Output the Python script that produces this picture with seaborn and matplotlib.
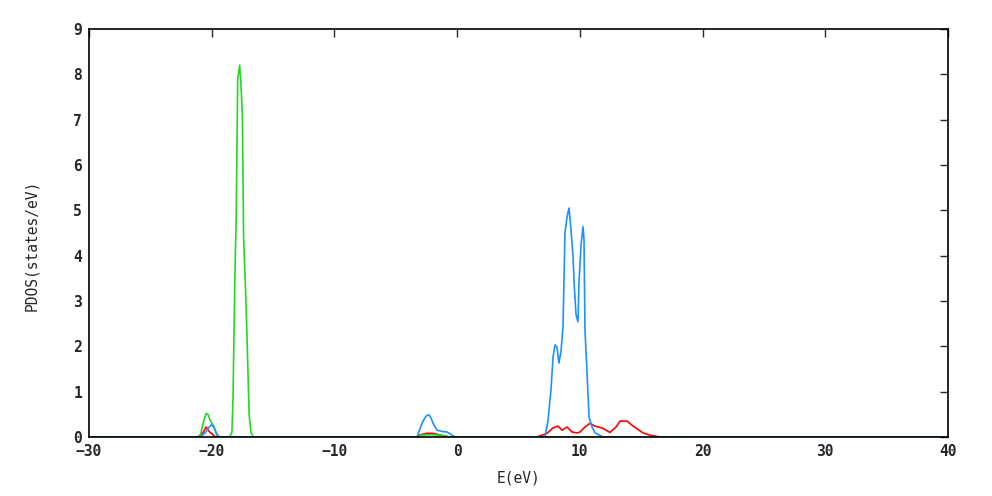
import numpy as np
import pandas as pd
import matplotlib
matplotlib.use("Agg")
import matplotlib.pyplot as plt
import seaborn as sns

# === PDOS data (E in eV, PDOS in states/eV) ===
green_e = [-30, -20.95, -20.7, -20.45, -20.3, -20.1, -19.85, -19.6, -19.45,
           -18.55, -18.35, -18.26, -18.12, -18.0, -17.88, -17.72, -17.62, -17.5,
           -17.4, -17.22, -17.1, -16.95, -16.8, -16.6,
           -3.2, -3.0, -2.0, -1.0, -0.7, 40]
green_pdos = [0, 0, 0.3, 0.52, 0.5, 0.35, 0.25, 0.05, 0,
              0, 0.1, 0.9, 3.4, 4.9, 7.9, 8.2, 7.8, 7.1,
              4.4, 3.1, 2.0, 0.5, 0.1, 0,
              0, 0.04, 0.05, 0.03, 0, 0]

red_e = [-30, -21.1, -20.7, -20.45, -20.2, -19.9, -19.7,
         -3.3, -3.0, -2.5, -2.0, -1.5, -1.0, -0.7,
         6.51, 7.33, 7.82, 8.22, 8.55, 8.96, 9.36, 9.77, 10.02, 10.42, 10.83,
         11.24, 11.81, 12.46, 12.95, 13.28, 13.85, 14.25, 14.66, 15.15, 15.72,
         16.54, 40]
red_pdos = [0, 0, 0.1, 0.22, 0.12, 0.05, 0,
            0, 0.05, 0.08, 0.08, 0.05, 0.02, 0,
            0.0, 0.08, 0.2, 0.24, 0.15, 0.22, 0.11, 0.09, 0.11, 0.22, 0.3,
            0.24, 0.2, 0.1, 0.22, 0.35, 0.35, 0.26, 0.18, 0.09, 0.04,
            0, 0]

blue_e = [-30, -20.9, -20.5, -20.2, -20.0, -19.8, -19.6, -19.4,
          -3.27, -3.0, -2.78, -2.5, -2.29, -2.1, -1.96, -1.64, -1.2, -0.82,
          -0.42, -0.17,
          7.16, 7.41, 7.65, 7.82, 7.98, 8.14, 8.30, 8.47, 8.63, 8.79, 8.96,
          9.12, 9.28, 9.45, 9.53, 9.69, 9.85, 9.93, 10.10, 10.26, 10.34, 10.42,
          10.59, 10.75, 11.0, 11.24, 11.89, 40]
blue_pdos = [0, 0, 0.1, 0.22, 0.27, 0.2, 0.08, 0,
             0, 0.2, 0.35, 0.47, 0.49, 0.4, 0.3, 0.15, 0.12, 0.11,
             0.04, 0,
             0, 0.37, 1.04, 1.77, 2.03, 1.98, 1.63, 1.9, 2.43, 4.5, 4.86,
             5.05, 4.57, 3.97, 3.4, 2.7, 2.54, 3.4, 4.24, 4.64, 4.35, 2.36,
             1.41, 0.44, 0.22, 0.09, 0, 0]

series_names = ["red", "green", "blue"]
colors = {"red": "#ff0000", "green": "#22d822", "blue": "#1e90ff"}

df = pd.concat([
    pd.DataFrame({"E": red_e, "PDOS": red_pdos, "orb": "red"}),
    pd.DataFrame({"E": green_e, "PDOS": green_pdos, "orb": "green"}),
    pd.DataFrame({"E": blue_e, "PDOS": blue_pdos, "orb": "blue"}),
], ignore_index=True)

sns.set_style("white")
plt.rcParams["font.family"] = ["DejaVu Sans Mono", "DejaVu Sans"]

fig = plt.figure(figsize=(9.92, 4.96), dpi=100)
ax = fig.add_axes([0.0897, 0.119, 0.8659, 0.8226])

for name in series_names:
    sub = df[df["orb"] == name]
    sns.lineplot(data=sub, x="E", y="PDOS", color=colors[name], lw=1.2,
                 sort=False, estimator=None, ax=ax, legend=False)

ax.set_xlim(-30, 40)
ax.set_ylim(0, 9)
ax.set_xticks(np.arange(-30, 41, 10))
ax.set_yticks(np.arange(0, 10, 1))
ax.tick_params(direction="in", length=6, width=1, top=True, right=True,
               labelsize=10.5, pad=5)
for lab in ax.get_xticklabels() + ax.get_yticklabels():
    lab.set_fontweight("bold")
for sp in ax.spines.values():
    sp.set_linewidth(1.2)
    sp.set_color("black")
    sp.set_zorder(5)

ax.set_xlabel("E(eV)", fontsize=10.5, labelpad=8)
ax.set_ylabel("PDOS(states/eV)", fontsize=10.5)
ax.yaxis.set_label_coords(-0.058, 0.47)

fig.savefig("out.png", dpi=100)
